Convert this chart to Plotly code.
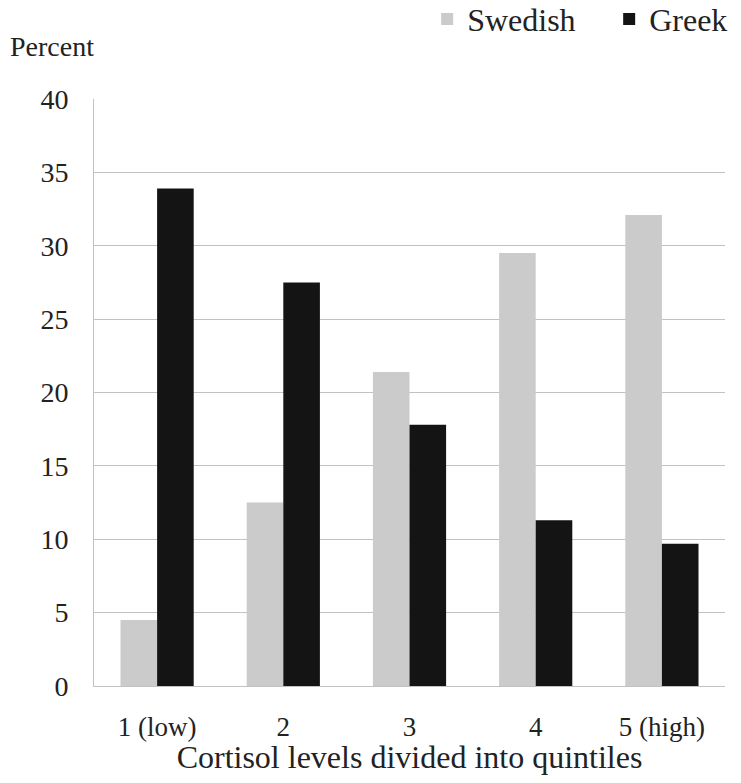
import plotly.graph_objects as go

categories = ["1 (low)", "2", "3", "4", "5 (high)"]
swedish = [4.5, 12.5, 21.4, 29.5, 32.1]
greek = [33.9, 27.5, 17.8, 11.3, 9.7]
y_ticks = [0, 5, 10, 15, 20, 25, 30, 35, 40]

FONT = "Liberation Serif, Times New Roman, serif"

fig = go.Figure()
fig.add_trace(go.Bar(name="Swedish", x=categories, y=swedish,
                     marker=dict(color="#cbcbcb", line=dict(width=0))))
fig.add_trace(go.Bar(name="Greek", x=categories, y=greek,
                     marker=dict(color="#141414", line=dict(width=0))))

fig.update_layout(
    width=733, height=767,
    margin=dict(l=86, r=16, t=91, b=89, autoexpand=False),
    paper_bgcolor="white", plot_bgcolor="white",
    barmode="group", bargap=0.42, bargroupgap=0,
    font=dict(family=FONT, color="#222222", size=27),
    legend=dict(orientation="h", x=0.528, xanchor="left", y=1.136, yanchor="middle",
                font=dict(size=32, family=FONT), entrywidth=137, entrywidthmode="pixels",
                bgcolor="rgba(0,0,0,0)", traceorder="normal"),
    showlegend=True,
)
fig.update_yaxes(range=[0, 40], tickvals=y_ticks, showgrid=True,
                 gridcolor="#c2c2c2", gridwidth=1, showline=True,
                 linecolor="#c2c2c2", linewidth=1, zeroline=False, automargin=False,
                 ticks="", ticklabelstandoff=19, tickfont=dict(size=28))
fig.update_xaxes(showline=True, linecolor="#c2c2c2", linewidth=1, ticks="",
                 tickfont=dict(size=27), ticklabelstandoff=17, automargin=False,
                 title=dict(text="Cortisol levels divided into quintiles",
                            font=dict(size=32), standoff=12))
fig.add_annotation(text="Percent", xref="paper", yref="paper",
                   x=-86 / 631, y=1.09, xanchor="left", yanchor="middle",
                   showarrow=False, font=dict(size=28, family=FONT))

fig.write_html("out.html")
